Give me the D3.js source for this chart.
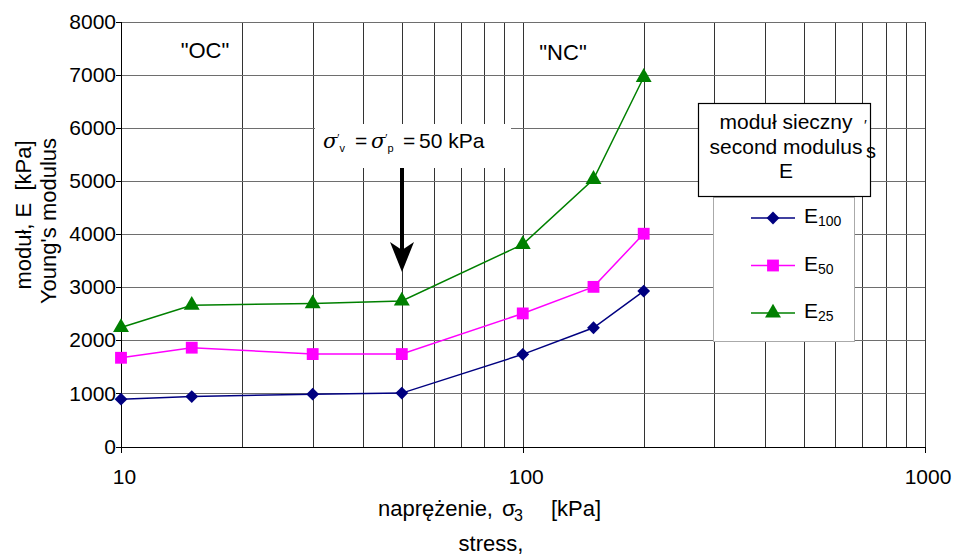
<!DOCTYPE html>
<html>
<head>
<meta charset="utf-8">
<script src="https://cdn.jsdelivr.net/npm/d3@7"></script>
<style>
	body { margin:0; background:#fff; font-family:"Liberation Sans", Arial, sans-serif; }
	svg text { fill:#000; white-space:pre; }
	.grid line { shape-rendering:crispEdges; }
	.grid .domain { display:none; }
	.axis path, .axis line { stroke:#000; shape-rendering:crispEdges; }
	.axis text { font-size:21px; font-family:"Liberation Sans", Arial, sans-serif; }
</style>
</head>
<body>
<svg width="958" height="558"></svg>
<script>
(function() {

	//DATA
	var stress = [10, 15, 30, 50, 100, 150, 200];
	var e100 = [890, 940, 985, 1005, 1735, 2235, 2925];
	var e50 = [1670, 1860, 1740, 1740, 2505, 3005, 4005];
	var e25 = [2240, 2660, 2690, 2740, 3805, 5030, 6950];

	var xTicks = [10, 100, 1000];
	var xGrid = [20, 30, 40, 50, 60, 70, 80, 90, 100, 200, 300, 400, 500, 600, 700, 800, 900, 1000];
	var yTicks = [0, 1000, 2000, 3000, 4000, 5000, 6000, 7000, 8000];

	var series = [
		{ name:'100', values:e100, color:'#000080', shape:'diamond' },
		{ name:'50', values:e50, color:'#FF00FF', shape:'square' },
		{ name:'25', values:e25, color:'#008000', shape:'triangle' }
	];

	//VARS
	var margin = { top:21.5, left:121, right:33.5, bottom:111.5 };
	var width = 958 - margin.left - margin.right;
	var height = 558 - margin.top - margin.bottom;

	var svg = d3.select('svg');
	var g = svg.append('g').attr('transform', 'translate(' + margin.left + ',' + margin.top + ')');

	var x = d3.scaleLog().domain([10, 1000]).range([0, width]);
	var y = d3.scaleLinear().domain([0, 8000]).range([height, 0]);

	function symbolFor(shape) {
		if (shape === 'diamond') return d3.symbol().type(d3.symbolSquare).size(82);
		if (shape === 'square') return d3.symbol().type(d3.symbolSquare).size(140);
		return d3.symbol().type(d3.symbolTriangle).size(110);
	}
	function rot(shape) {
		return shape === 'diamond' ? 'rotate(45)' : '';
	}

	// GRID
	g.append('g').attr('class', 'grid')
		.call(d3.axisBottom(x).tickValues(xGrid).tickSize(height).tickFormat(''))
		.selectAll('line').attr('stroke', '#333');

	g.append('g').attr('class', 'grid')
		.call(d3.axisLeft(y).tickValues(yTicks.slice(1)).tickSize(-width).tickFormat(''))
		.selectAll('line').attr('stroke', '#6e6e6e');

	// annotation box (covers grid)
	g.append('rect')
		.attr('x', 315 - margin.left).attr('y', 124 - margin.top)
		.attr('width', 196).attr('height', 44)
		.attr('fill', '#fff');

	// AXES
	var ax = g.append('g').attr('class', 'axis')
		.attr('transform', 'translate(0,' + height + ')')
		.call(d3.axisBottom(x).tickValues(xTicks).tickSize(6).tickPadding(17).tickFormat(d3.format('d')));
	ax.selectAll('text').attr('dx', 3);

	g.append('g').attr('class', 'axis')
		.call(d3.axisLeft(y).tickValues(yTicks).tickSize(5).tickPadding(0).tickFormat(d3.format('d')));

	// LINES
	var line = d3.line()
		.x(function(d, i) { return x(stress[i]); })
		.y(function(d) { return y(d); });

	series.forEach(function(s) {
		g.append('path')
			.attr('d', line(s.values))
			.attr('fill', 'none')
			.attr('stroke', s.color)
			.attr('stroke-width', 1.5);

		g.selectAll('.pt-' + s.name)
			.data(s.values)
			.enter().append('path')
			.attr('transform', function(d, i) { return 'translate(' + x(stress[i]) + ',' + y(d) + ')' + rot(s.shape); })
			.attr('d', symbolFor(s.shape))
			.attr('fill', s.color);
	});

	// TEXT LABELS
	svg.append('text').attr('x', 205).attr('y', 58).attr('text-anchor', 'middle')
		.style('font-size', '22px').text('"OC"');
	svg.append('text').attr('x', 563).attr('y', 60).attr('text-anchor', 'middle')
		.style('font-size', '22px').text('"NC"');

	// σ'v = σ'p = 50 kPa
	function sigma(x0, sub) {
		var t = svg.append('text').attr('x', x0).attr('y', 148).style('font-size', '21px');
		t.append('tspan').style('font-family', 'DejaVu Serif').style('font-style', 'italic').text('σ');
		t.append('tspan').attr('dy', -6).style('font-size', '11px').text('′');
		t.append('tspan').attr('dy', 10).style('font-size', '11px').text(sub);
	}
	sigma(323, 'v');
	svg.append('text').attr('x', 355).attr('y', 148).style('font-size', '21px').text('=');
	sigma(371, 'p');
	svg.append('text').attr('x', 403).attr('y', 148).style('font-size', '21px').text('=');
	svg.append('text').attr('x', 419).attr('y', 148).style('font-size', '21px').text('50 kPa');

	// ARROW
	svg.append('line').attr('x1', 402).attr('y1', 168).attr('x2', 402).attr('y2', 250)
		.attr('stroke', '#000').attr('stroke-width', 4);
	svg.append('path').attr('d', 'M390,242 L402,250 L414,242 L402,272 Z').attr('fill', '#000');

	// LEGEND
	svg.append('rect').attr('x', 713.5).attr('y', 197.5).attr('width', 141).attr('height', 144)
		.attr('fill', '#fff').attr('stroke', '#aaa');
	svg.append('rect').attr('x', 698.5).attr('y', 103.5).attr('width', 172).attr('height', 93)
		.attr('fill', '#fff').attr('stroke', '#000').attr('stroke-width', 1.2);
	['moduł sieczny', 'second modulus', 'E'].forEach(function(t, i) {
		svg.append('text').attr('x', 786).attr('y', 129 + i * 24.5).attr('text-anchor', 'middle')
			.style('font-size', '21px').text(t);
	});
	svg.append('text').attr('x', 864).attr('y', 130).style('font-size', '15px').text('′');
	svg.append('text').attr('x', 866).attr('y', 158).style('font-size', '20px').text('s');

	series.forEach(function(s, i) {
		var ly = 218 + i * 47.5;
		svg.append('line').attr('x1', 751).attr('x2', 795).attr('y1', ly).attr('y2', ly)
			.attr('stroke', s.color).attr('stroke-width', 1.5);
		svg.append('path').attr('transform', 'translate(773,' + ly + ')' + rot(s.shape))
			.attr('d', symbolFor(s.shape)).attr('fill', s.color);
		var t = svg.append('text').attr('x', 804).attr('y', ly + 5).style('font-size', '21px');
		t.append('tspan').text('E');
		t.append('tspan').attr('dy', 3).style('font-size', '14px').text(s.name);
	});

	// AXIS TITLES
	svg.append('text').attr('transform', 'translate(31,215)rotate(-90)').attr('text-anchor', 'middle')
		.style('font-size', '22px').text('moduł, E  [kPa]');
	svg.append('text').attr('transform', 'translate(56,221)rotate(-90)').attr('text-anchor', 'middle')
		.style('font-size', '22px').text("Young's modulus");

	svg.append('text').attr('x', 378).attr('y', 516).style('font-size', '22px').text('naprężenie,');
	svg.append('text').attr('x', 502).attr('y', 516).style('font-size', '22px').text('σ');
	svg.append('text').attr('x', 514).attr('y', 521).style('font-size', '16px').text('3');
	svg.append('text').attr('x', 551).attr('y', 516).style('font-size', '22px').text('[kPa]');

	svg.append('text').attr('x', 491).attr('y', 551).attr('text-anchor', 'middle')
		.style('font-size', '22px').text('stress,');

})()
</script>
</body>
</html>
